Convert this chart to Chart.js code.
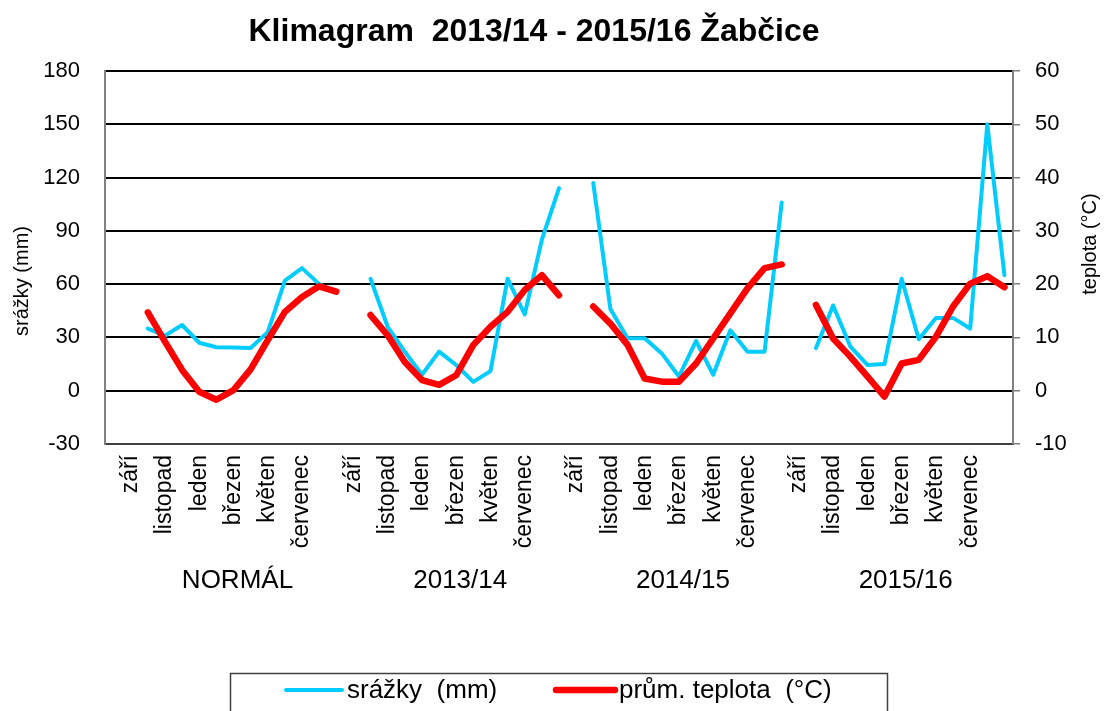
<!DOCTYPE html>
<html>
<head>
<meta charset="utf-8">
<script src="https://cdn.jsdelivr.net/npm/chart.js@4/dist/chart.umd.min.js"></script>
<style>
html,body{margin:0;padding:0;background:#fff;}
#wrap{width:1107px;height:711px;position:relative;}
</style>
</head>
<body>
<div id="wrap"><canvas id="c"></canvas></div>
<script>
const chartTitle = 'Klimagram  2013/14 - 2015/16 Žabčice';
const yTitleLeft = 'srážky (mm)';
const yTitleRight = 'teplota (°C)';
const groups = ['NORMÁL', '2013/14', '2014/15', '2015/16'];
const months = ['září', 'říjen', 'listopad', 'prosinec', 'leden', 'únor', 'březen', 'duben', 'květen', 'červen', 'červenec', 'srpen'];
const seriesNames = ['srážky  (mm)', 'prům. teplota  (°C)'];

// srážky (mm), září..srpen
const precipNormal = [35, 31, 37, 27, 24.5, 24.3, 24, 33, 62, 69, 60, 55];
const precip1314   = [63, 36, 22, 9, 22, 14.5, 5, 11, 63, 43, 85, 114];
const precip1415   = [117, 46, 29.5, 29.5, 21, 8, 28, 9, 34, 22, 22, 106];
const precip1516   = [24, 48, 25, 14.5, 15, 63, 29, 41, 41, 35, 150, 65];

// průměrná teplota (°C), září..srpen
const tempNormal = [14.7, 9.2, 3.9, -0.2, -1.7, 0.1, 4.0, 9.5, 14.8, 17.6, 19.6, 18.6];
const temp1314   = [14.2, 10.4, 5.4, 2.0, 1.1, 2.9, 8.6, 12.0, 14.8, 18.9, 21.7, 17.9];
const temp1415   = [15.8, 12.6, 8.6, 2.3, 1.7, 1.7, 5.1, 9.8, 14.5, 19.2, 23.0, 23.7];
const temp1516   = [16.1, 9.8, 6.4, 2.7, -1.1, 5.1, 5.8, 10.1, 15.8, 20.1, 21.5, 19.4];

const precipMin = -30, precipMax = 180, precipStep = 30;
const tempMin = -10, tempMax = 60, tempStep = 10;

const FONT = '"Liberation Sans", Arial, Helvetica, sans-serif';

// category slots: one leading blank, then each group = 12 months + 1 blank
const labels = [''];
groups.forEach(() => { months.forEach(m => labels.push(m)); labels.push(''); });

// values sit one slot after their month label (as in the original sheet)
function slots(list) {
  const out = [null, null];
  list.forEach((s, g) => { if (g > 0) out.push(null); s.forEach(v => out.push(v)); });
  return out;
}

const precipData = slots([precipNormal, precip1314, precip1415, precip1516]);
const tempData = slots([tempNormal, temp1314, temp1415, temp1516]);

const decor = {
  id: 'decor',
  afterDraw(chart) {
    const ctx = chart.ctx;
    const xs = chart.scales.x;
    ctx.save();
    ctx.fillStyle = '#000';
    // title
    ctx.font = 'bold 32px ' + FONT;
    ctx.textAlign = 'center';
    ctx.textBaseline = 'alphabetic';
    ctx.fillText(chartTitle, 534, 41);
    // axis titles
    ctx.font = '20px ' + FONT;
    ctx.textBaseline = 'middle';
    ctx.save(); ctx.translate(22, 281); ctx.rotate(-Math.PI / 2); ctx.fillText(yTitleLeft, 0, 0); ctx.restore();
    ctx.save(); ctx.translate(1090, 244); ctx.rotate(-Math.PI / 2); ctx.fillText(yTitleRight, 0, 0); ctx.restore();
    // group labels
    ctx.font = '26px ' + FONT;
    groups.forEach((g, i) => {
      const a = xs.getPixelForValue(1 + 13 * i);
      const b = xs.getPixelForValue(13 + 13 * i);
      ctx.fillText(g, (a + b) / 2 + 4, 581);
    });
    // legend
    ctx.strokeStyle = '#404040';
    ctx.lineWidth = 1.5;
    ctx.strokeRect(230.5, 673.5, 657, 60);
    const items = [
      {x0: 286, x1: 342, tx: 347, ds: chart.data.datasets[0]},
      {x0: 556, x1: 615, tx: 619, ds: chart.data.datasets[1]}
    ];
    ctx.font = '26px ' + FONT;
    ctx.textAlign = 'left';
    items.forEach(it => {
      ctx.strokeStyle = it.ds.borderColor;
      ctx.lineWidth = it.ds.borderWidth;
      ctx.lineCap = 'round';
      ctx.beginPath(); ctx.moveTo(it.x0, 690); ctx.lineTo(it.x1, 690); ctx.stroke();
      ctx.fillStyle = '#000';
      ctx.fillText(it.ds.label, it.tx, 691);
    });
    ctx.restore();
  }
};

new Chart(document.getElementById('c'), {
  type: 'line',
  data: {
    labels: labels,
    datasets: [
      {
        label: seriesNames[0], data: precipData, yAxisID: 'y',
        borderColor: '#00CCFF', borderWidth: 4, pointRadius: 0, pointHoverRadius: 0,
        borderCapStyle: 'round', borderJoinStyle: 'round', tension: 0, fill: false, order: 1
      },
      {
        label: seriesNames[1], data: tempData, yAxisID: 'y1',
        borderColor: '#FF0000', borderWidth: 6.5, pointRadius: 0, pointHoverRadius: 0,
        borderCapStyle: 'round', borderJoinStyle: 'round', tension: 0, fill: false, order: 0
      }
    ]
  },
  options: {
    responsive: true,
    maintainAspectRatio: false,
    animation: false,
    layout: {padding: {top: 71, bottom: 117, left: 0, right: 0}},
    plugins: {legend: {display: false}, tooltip: {enabled: false}, title: {display: false}},
    scales: {
      x: {
        type: 'category', offset: true,
        grid: {display: false, drawTicks: false},
        border: {display: true, color: '#404040', width: 2},
        ticks: {
          autoSkip: false, maxRotation: 90, minRotation: 90, padding: 11, color: '#000',
          font: {family: FONT, size: 23},
          callback: function (value, index) {
            const m = (index - 1) % 13;
            return (index > 0 && m < 12 && m % 2 === 0) ? labels[index] : '';
          }
        },
        afterFit(s) { s.height = 150; }
      },
      y: {
        position: 'left', min: precipMin, max: precipMax,
        ticks: {stepSize: precipStep, padding: 25, color: '#000', font: {family: FONT, size: 22}},
        grid: {color: '#000', lineWidth: 2, drawTicks: false},
        border: {color: '#808080', width: 2},
        afterFit(s) { s.width = 105; }
      },
      y1: {
        position: 'right', min: tempMin, max: tempMax,
        ticks: {stepSize: tempStep, padding: 15, color: '#000', font: {family: FONT, size: 22}},
        grid: {drawOnChartArea: false, drawTicks: true, tickLength: 7, color: '#808080', lineWidth: 1.5},
        border: {color: '#808080', width: 2},
        afterFit(s) { s.width = 94; }
      }
    }
  },
  plugins: [decor]
});
</script>
</body>
</html>
